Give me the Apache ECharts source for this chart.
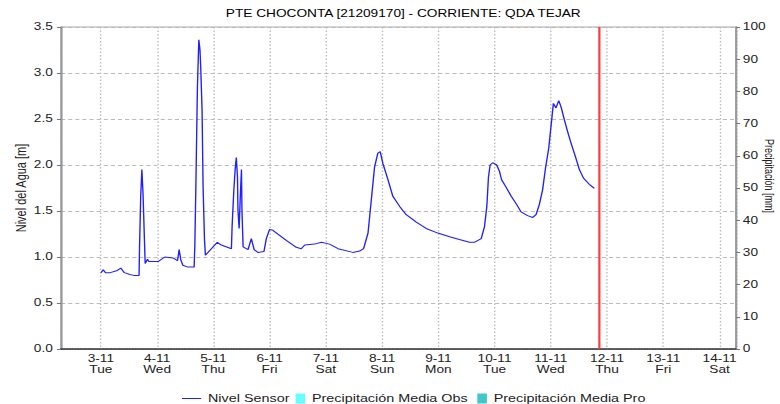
<!DOCTYPE html>
<html>
<head>
<meta charset="utf-8">
<script src="https://cdn.jsdelivr.net/npm/echarts@6/dist/echarts.min.js"></script>
<style>
html,body{margin:0;padding:0;background:#fff;overflow:hidden;width:780px;height:404px;}
#chart{width:570px;height:404px;transform:scaleX(1.368421);transform-origin:0 0;}
</style>
</head>
<body>
<div id="chart"></div>
<script>
// ---- data (hours since 2020-11-03 00:00, water level in m) ----
const titleText = 'PTE CHOCONTA [21209170] - CORRIENTE: QDA TEJAR';
const dayNames = ['Sun','Mon','Tue','Wed','Thu','Fri','Sat'];
const hours = [0,1,2,4,6.7,8.5,10,12.4,14,16.3,16.5,17,17.5,18,18.6,18.9,19.9,20.5,24.4,27.3,30.8,32.7,33.4,34.1,35,37.2,39.8,
  40.1,40.6,41.2,41.8,42.3,42.6,43.2,43.6,44.2,44.6,49.7,51.4,55.7,56,56.7,57.3,57.8,58.3,58.5,59,59.5,60,60.2,60.7,
  62.8,64.2,65.4,67,69.6,70.6,72,73.4,79.1,83.4,85.5,87,91.2,94.1,97.6,101.2,107.5,110.4,112.1,114,115.4,116.8,118.2,
  119.2,120.3,122.5,124.6,127.5,130.3,134.6,138.8,143.8,148.8,153,157.3,159.4,162.3,163.7,164.7,165.4,166.1,167.2,168.9,
  170.1,171,172.9,175.1,177.2,179.3,182.1,184.3,185.7,187.1,188.5,189.7,191.1,192.2,193.1,194.2,195.4,196.4,197.8,199.2,
  200.6,202.5,204.2,206,208.4,210.6];
const nivel = [0.83,0.86,0.83,0.83,0.85,0.88,0.83,0.81,0.80,0.80,1.11,1.66,1.95,1.68,1.18,0.93,0.975,0.95,0.95,1.0,0.99,0.96,1.08,0.97,0.91,0.89,0.89,
  1.13,1.87,2.85,3.36,3.25,3.07,2.58,1.78,1.20,1.02,1.16,1.13,1.09,1.33,1.71,1.95,2.08,1.87,1.51,1.31,1.66,1.95,1.51,1.11,
  1.08,1.20,1.08,1.05,1.06,1.20,1.30,1.29,1.18,1.105,1.09,1.13,1.14,1.16,1.14,1.09,1.05,1.065,1.09,1.26,1.62,1.98,2.13,
  2.145,2.02,1.84,1.66,1.55,1.46,1.38,1.31,1.26,1.22,1.19,1.16,1.16,1.20,1.33,1.55,1.87,2.0,2.025,2.0,
  1.93,1.84,1.76,1.66,1.58,1.49,1.45,1.43,1.46,1.57,1.73,1.96,2.18,2.45,2.67,2.62,2.70,2.63,2.49,2.36,
  2.24,2.09,1.95,1.855,1.79,1.745];
const precipObs = [];
const precipPro = [];
const nowHour = 212.7;          // red "now" line
const axisStartHour = -17;
const axisEndHour = 271;
const leftAxis = {min: 0, max: 3.5, interval: 0.5};
const rightAxis = {min: 0, max: 100, interval: 10};

const H = 3600 * 1000;
const base = new Date(2020, 10, 3, 0, 0, 0).getTime();
const lineData = hours.map((h, i) => [base + h * H, nivel[i]]);

const FONT = "'Liberation Sans', Arial, sans-serif";
const chart = echarts.init(document.getElementById('chart'), null, {renderer: 'svg'});
chart.setOption({
  animation: false,
  textStyle: {fontFamily: FONT},
  title: {
    text: titleText, left: 160, top: 4,
    textStyle: {fontFamily: FONT, fontSize: 10, fontWeight: 'normal', color: '#000'}
  },
  grid: {left: 44.6, right: 32.2, top: 27, bottom: 55, show: true, borderColor: '#aaa', borderWidth: 1,
         containLabel: false, outerBoundsMode: 'none'},
  legend: [
    {data: [{name: 'Nivel Sensor', icon: 'path://M0,0h0.01v0.01h-0.01z M0,4.5h14v1h-14z M0,9.99h0.01v0.01h-0.01z'}],
     left: 128, top: 388, itemWidth: 14, itemHeight: 10, itemGap: 7,
     textStyle: {fontFamily: FONT, fontSize: 10.5, color: '#222'}},
    {data: [{name: 'Precipitación Media Obs', icon: 'rect'}, {name: 'Precipitación Media Pro', icon: 'rect'}],
     left: 211, top: 388, itemWidth: 7, itemHeight: 10, itemGap: 7,
     textStyle: {fontFamily: FONT, fontSize: 10.5, color: '#222'}}
  ],
  xAxis: {
    type: 'time',
    min: base + axisStartHour * H,
    max: base + axisEndHour * H,
    splitNumber: 12,
    axisLine: {show: true, lineStyle: {color: '#333', width: 1.5, type: [1, 1]}},
    axisTick: {show: false},
    splitLine: {show: true, lineStyle: {color: '#bbb', width: 1, type: [1.5, 2]}},
    axisLabel: {
      showMinLabel: false, showMaxLabel: false,
      fontFamily: FONT, fontSize: 10, color: '#222', lineHeight: 11, margin: 4, hideOverlap: false,
      formatter: function (v) {
        const d = new Date(v);
        if (d.getHours() !== 0 || d.getMinutes() !== 0) return '';
        return d.getDate() + '-' + (d.getMonth() + 1) + '\n' + dayNames[d.getDay()];
      }
    }
  },
  yAxis: [
    {
      type: 'value', min: leftAxis.min, max: leftAxis.max, interval: leftAxis.interval,
      name: 'Nivel del Agua [m]', nameLocation: 'middle', nameGap: 24, nameMoveOverlap: false,
      nameTextStyle: {fontFamily: FONT, fontSize: 11, color: '#222'},
      axisLine: {show: true, lineStyle: {color: '#999', width: 1.5}},
      axisTick: {show: true, length: 3, lineStyle: {color: '#777'}},
      axisLabel: {fontFamily: FONT, fontSize: 10, color: '#222', margin: 6,
                  formatter: v => v.toFixed(1)},
      splitLine: {show: true, lineStyle: {color: '#bbb', width: 1, type: [3, 2.2]}}
    },
    {
      type: 'value', position: 'right', min: rightAxis.min, max: rightAxis.max, interval: rightAxis.interval,
      name: 'Precipitación [mm]', nameLocation: 'middle', nameGap: 20, nameRotate: -90, nameMoveOverlap: false,
      nameTextStyle: {fontFamily: FONT, fontSize: 9, color: '#222', padding: [0, 24, 0, 0]},
      axisLine: {show: true, lineStyle: {color: '#999', width: 1.5}},
      axisTick: {show: true, length: 3, lineStyle: {color: '#777'}},
      axisLabel: {fontFamily: FONT, fontSize: 10, color: '#222', margin: 5},
      splitLine: {show: false}
    }
  ],
  series: [
    {
      name: 'Nivel Sensor', type: 'line', yAxisIndex: 0, data: lineData,
      symbol: 'none', showSymbol: false, sampling: null,
      lineStyle: {color: '#1f1fff', width: 1}, itemStyle: {color: '#1f1fff'},
      markLine: {
        silent: true, symbol: ['none', 'none'], label: {show: false},
        lineStyle: {color: '#ff3b3b', width: 1.6, type: 'solid'},
        data: [{xAxis: base + nowHour * H}]
      }
    },
    {name: 'Precipitación Media Obs', type: 'line', yAxisIndex: 1, data: precipObs, symbol: 'none',
     itemStyle: {color: '#66ffff'}, lineStyle: {color: '#66ffff'}},
    {name: 'Precipitación Media Pro', type: 'line', yAxisIndex: 1, data: precipPro, symbol: 'none',
     itemStyle: {color: '#40c8c8'}, lineStyle: {color: '#40c8c8'}}
  ]
});
</script>
</body>
</html>
